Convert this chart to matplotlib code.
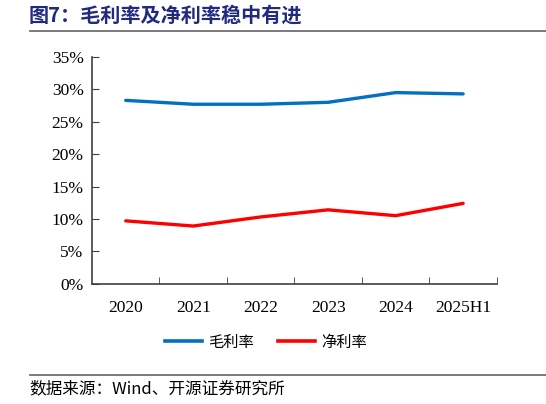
import matplotlib
matplotlib.use("Agg")
from matplotlib import pyplot as plt
from matplotlib.ticker import FuncFormatter
from matplotlib.lines import Line2D

years = ["2020", "2021", "2022", "2023", "2024", "2025H1"]
gross_margin = [28.3, 27.7, 27.7, 28.0, 29.5, 29.3]
net_margin = [9.7, 8.9, 10.3, 11.4, 10.5, 12.4]

CJK = ["Noto Sans CJK SC", "DejaVu Sans"]
SERIF = ["Liberation Serif", "Noto Sans CJK SC"]

fig = plt.figure(figsize=(5.46, 4.04), dpi=100)
ax = fig.add_axes([0.1685, 0.2978, 0.7415, 0.5612])

x = list(range(len(years)))
ax.plot(x, gross_margin, color="#0070C0", lw=2.4, label="毛利率", solid_capstyle="round")
ax.plot(x, net_margin, color="#FF0000", lw=2.4, label="净利率", solid_capstyle="round")

ax.set_xlim(-0.5, len(years) - 0.5)
ax.set_ylim(0, 35)
ax.set_yticks(range(0, 36, 5))
ax.yaxis.set_major_formatter(FuncFormatter(lambda v, p: "%d%%" % v))
ax.set_xticks(x)
ax.set_xticklabels(years)
ax.set_xticks([i + 0.5 for i in x], minor=True)
ax.tick_params(axis="x", which="major", length=0, pad=12)
ax.tick_params(axis="x", which="minor", direction="in", length=5, color="#404040")
ax.tick_params(axis="y", direction="in", length=5, color="#404040", pad=6)
for lab in ax.get_xticklabels() + ax.get_yticklabels():
    lab.set_family(SERIF)
    lab.set_fontsize(12.5)
    lab.set_color("#000000")
for s in ["top", "right"]:
    ax.spines[s].set_visible(False)
for s in ["left", "bottom"]:
    ax.spines[s].set_color("#404040")
    ax.spines[s].set_linewidth(1.2)

handles = [Line2D([], [], color="#0070C0", lw=2.6),
           Line2D([], [], color="#FF0000", lw=2.6)]
fig.legend(handles, ["毛利率", "净利率"], loc="center", bbox_to_anchor=(0.487, 0.153),
           ncol=2, frameon=False, prop={"family": CJK, "size": 11},
           handlelength=2.4, handletextpad=0.4, columnspacing=1.6)

fig.text(0.053, 0.962, "图7：毛利率及净利率稳中有进", family=CJK, fontsize=14.5,
         fontweight="bold", color="#1F2A80", va="center", ha="left")
fig.add_artist(Line2D([0.055, 1.0], [0.923, 0.923], color="#707070", lw=1.3))
fig.add_artist(Line2D([0.055, 1.0], [0.073, 0.073], color="#707070", lw=1.3))
fig.text(0.054, 0.038, "数据来源：Wind、开源证券研究所", family=CJK, fontsize=12,
         color="#000000", va="center", ha="left")

fig.savefig("out.png", dpi=100)
